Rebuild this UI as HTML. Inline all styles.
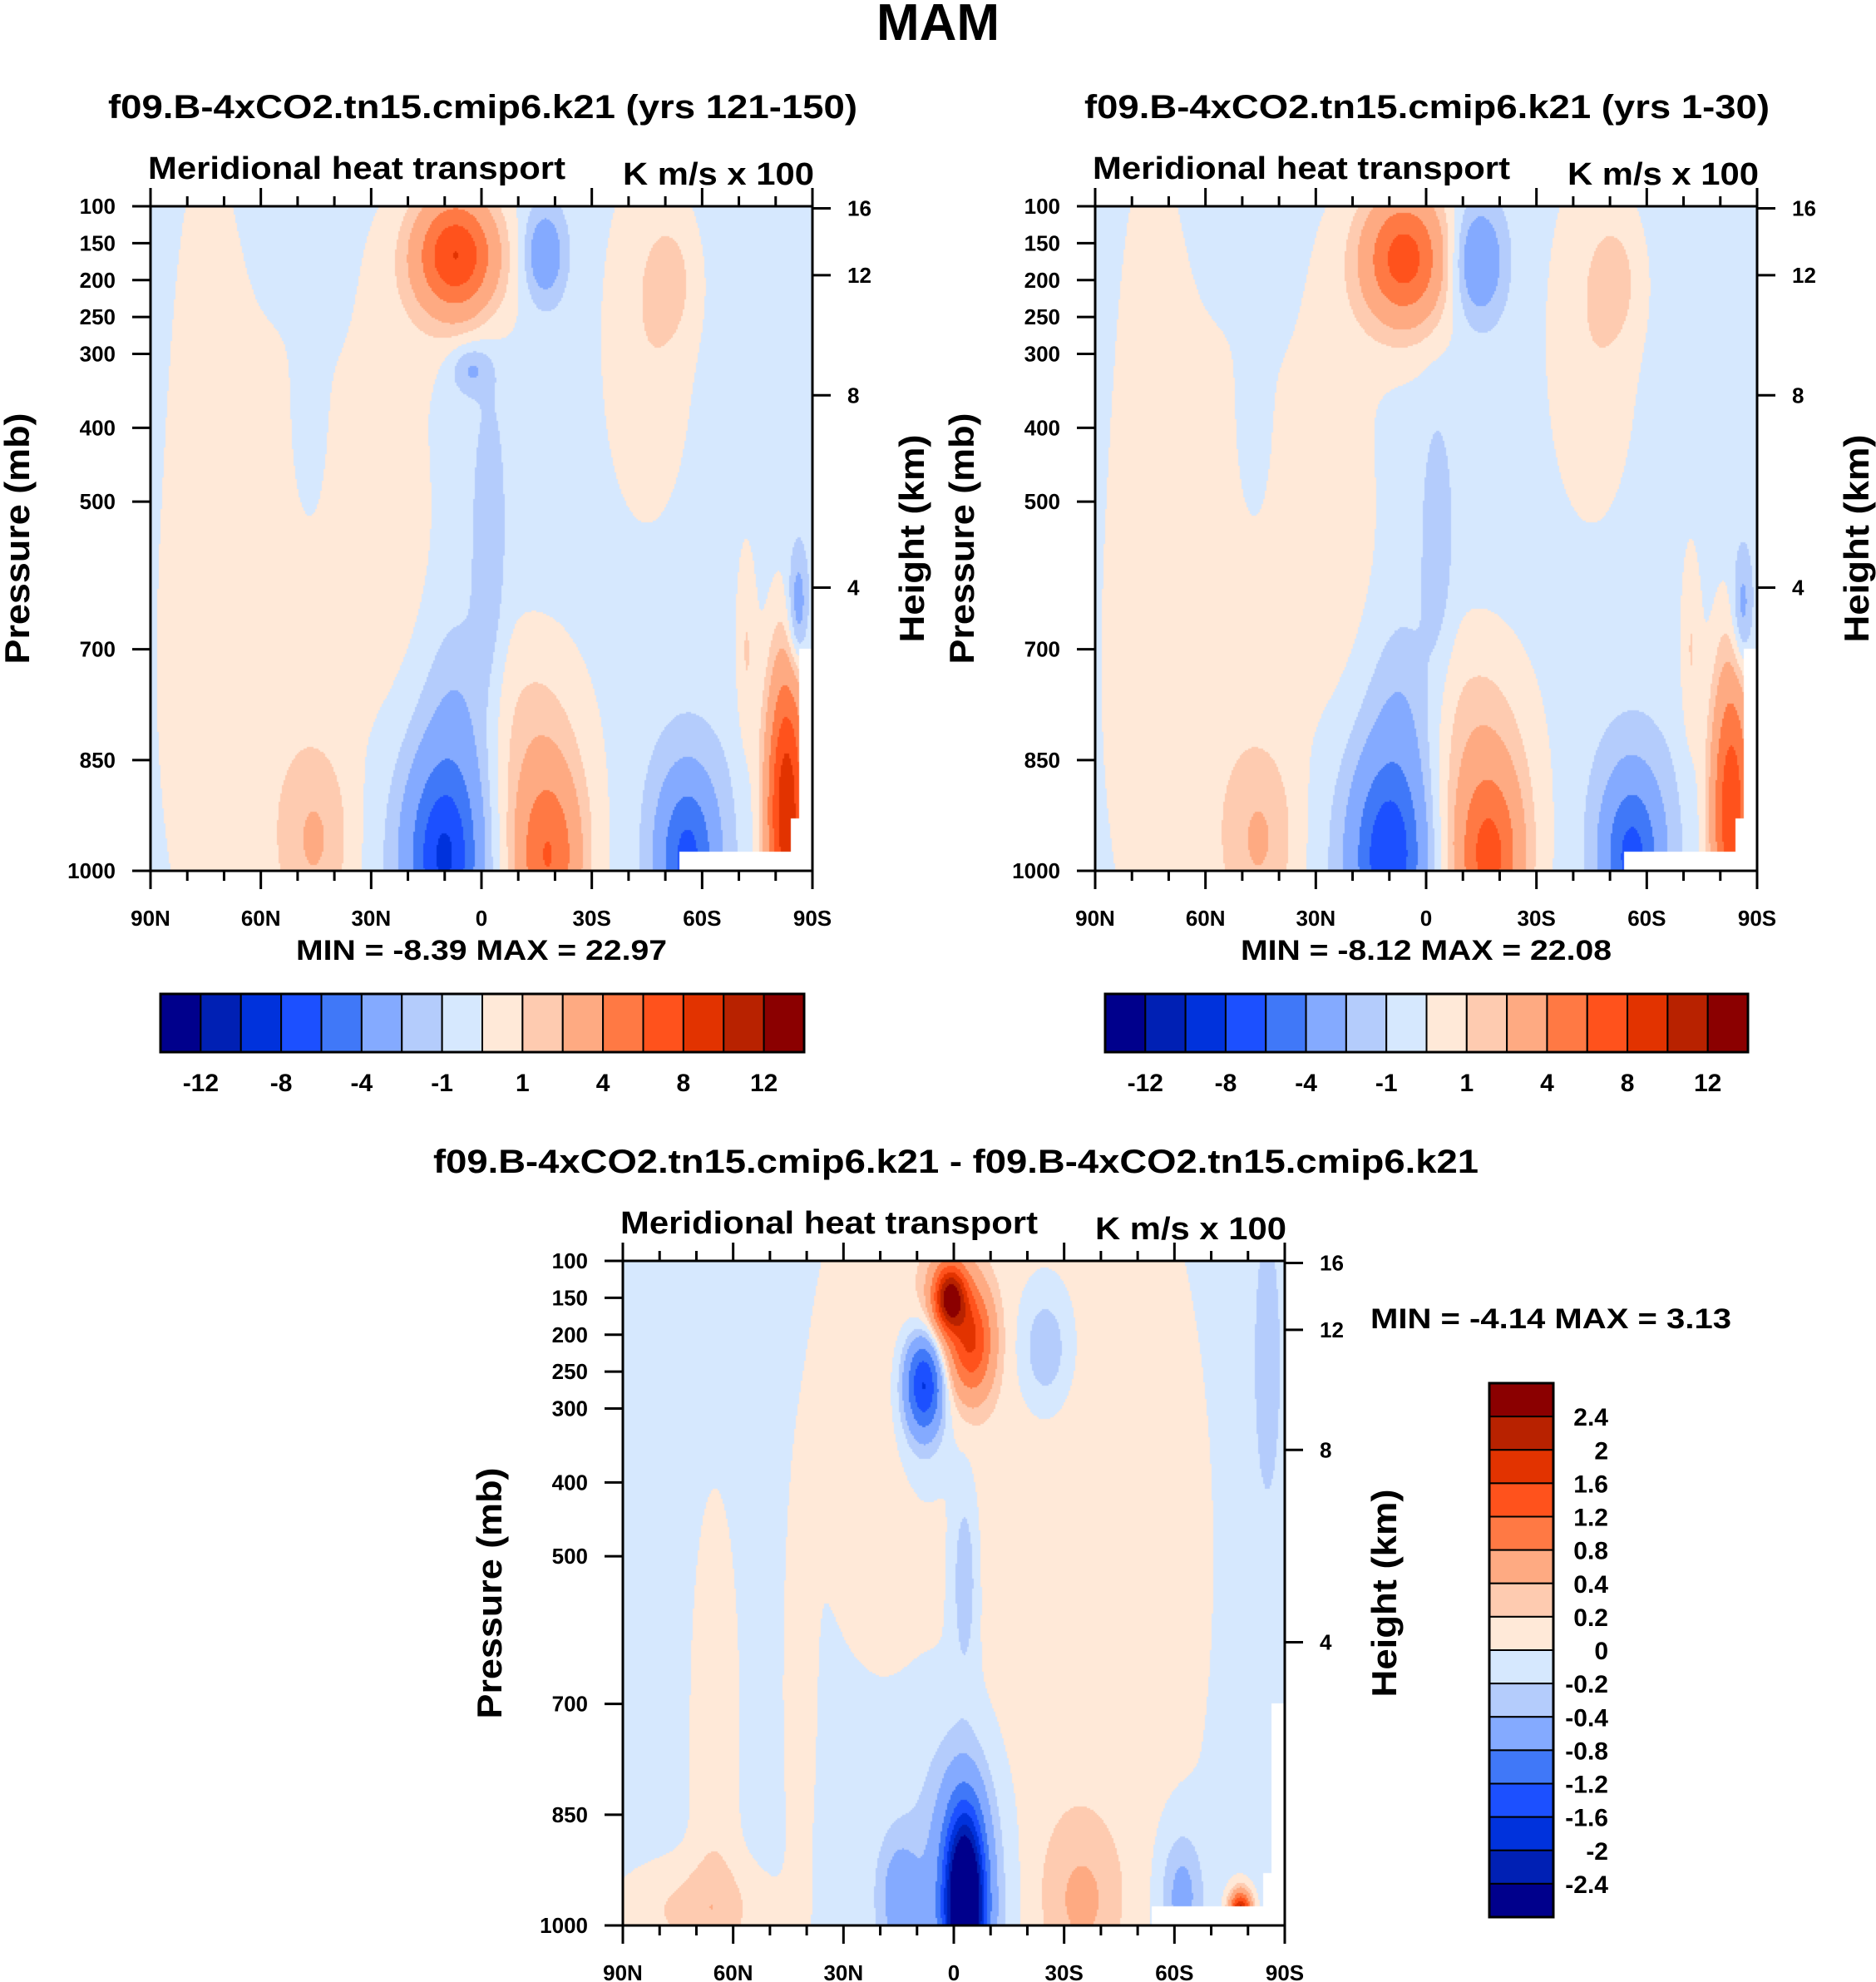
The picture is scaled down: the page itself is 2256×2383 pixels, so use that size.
<!DOCTYPE html>
<html><head><meta charset="utf-8">
<style>
html,body{margin:0;padding:0;background:#fff;}
#wrap{position:relative;width:2256px;height:2383px;overflow:hidden;font-family:"Liberation Sans",Arial,sans-serif;}
canvas{position:absolute;}
svg{position:absolute;left:0;top:0;}
text{font-family:"Liberation Sans",Arial,sans-serif;font-weight:bold;fill:#000;}
</style></head>
<body>
<div id="wrap">
<canvas id="c1"></canvas>
<canvas id="c2"></canvas>
<canvas id="c3"></canvas>
<svg id="ov" width="2256" height="2383"></svg>
</div>
<script>
// ---------- data ----------
const latTicks = [90,60,30,0,-30,-60,-90];
const latTickLabels = ["90N","60N","30N","0","30S","60S","90S"];
const presTicks = [100,150,200,250,300,400,500,700,850,1000];
const heightTicks = [16,12,8,4];
const levelsMain = [-12,-10,-8,-6,-4,-2,-1,0,1,2,4,6,8,10,12];
const levelsDiff = [-2.4,-2,-1.6,-1.2,-0.8,-0.4,-0.2,0,0.2,0.4,0.8,1.2,1.6,2,2.4];
const cbLabelsMain = ["-12","-8","-4","-1","1","4","8","12"];
const cbLabelsDiff = ["2.4","2","1.6","1.2","0.8","0.4","0.2","0","-0.2","-0.4","-0.8","-1.2","-1.6","-2","-2.4"];
const colors = ["#00008c","#0020b4","#0032dc","#1c50ff","#4078f8","#84aaff","#b4ccfc","#d6e8fe","#ffe9d8","#fecbb0","#feaa82","#ff7944","#ff521c","#e23300","#b82200","#8b0000"];

// blob features: lat, pressure, amplitude, lat width, pressure width
const p1Lat = [62,75,25,47,7,7,-17,-45,-52,3,-2,6,-12,10,12,-18,-18,-56,-56,45,-83,-86,-72];
const p1Pres= [750,300,550,420,165,175,165,280,200,320,560,800,800,985,950,985,950,985,950,960,920,650,700];
const p1Amp = [1.0,0.6,1.0,-0.5,6,2.5,-3,1.3,1.2,-2,-1.5,-1.2,1.2,-6,-2,5,1.5,-5,-1.3,2.0,10,-3,1.5];
const p1SLat= [22,6,9,3,7,11,4,9,5,4,3,6,10,6,11,6,11,5,9,7,4,2,2];
const p1SP  = [420,250,220,80,50,80,45,180,60,25,140,100,100,80,140,80,140,70,110,90,140,60,100];

const p2Lat = [62,75,25,47,6,6,-14,-45,-52,-3,6,-12,10,12,-17,-17,-56,-56,45,-83,-86,-72];
const p2Pres= [750,300,550,420,170,175,175,280,200,560,800,800,985,950,985,950,985,950,960,920,650,700];
const p2Amp = [1.0,0.6,1.0,-0.5,5,2.5,-3.5,1.3,1.2,-1.3,-1.2,1.2,-5.5,-2,5.5,1.8,-5,-1.4,2.0,8,-2.5,1.5];
const p2SLat= [22,6,9,3,7,11,5,9,5,3,6,10,6,11,6,11,5,9,7,4,2,2];
const p2SP  = [420,250,220,80,55,85,55,180,60,120,100,100,80,140,80,140,70,110,90,140,60,100];

const p3Lat = [-30,25,1,-5,2,8,8,-25,-3,-3,-2,15,70,-35,-62,-78,65,42,-85];
const p3Pres= [500,300,150,210,180,265,270,220,530,970,950,960,980,970,960,985,750,700,250];
const p3Amp = [0.25,0.25,2.2,1.3,0.6,-1.5,-0.4,-0.45,-0.4,-3.5,-0.7,-0.5,0.35,0.4,-0.5,2.5,0.25,0.25,-0.2];
const p3SLat= [30,10,3,4,7,3.5,6,5,2.5,3.5,8,4,15,8,4,2,5,3,4];
const p3SP  = [500,200,30,50,80,45,80,60,90,80,140,60,50,80,60,20,250,200,200];

// ---------- geometry ----------
const panels = [
 {id:"c1",L:181,R:977,T:248,B:1047,base:-0.5,lat:p1Lat,pres:p1Pres,amp:p1Amp,sl:p1SLat,sp:p1SP,lev:levelsMain},
 {id:"c2",L:1317,R:2113,T:248,B:1047,base:-0.5,lat:p2Lat,pres:p2Pres,amp:p2Amp,sl:p2SLat,sp:p2SP,lev:levelsMain},
 {id:"c3",L:749,R:1545,T:1516,B:2315,base:-0.1,lat:p3Lat,pres:p3Pres,amp:p3Amp,sl:p3SLat,sp:p3SP,lev:levelsDiff}
];
function xOf(P,lat){return P.L+(90-lat)/180*(P.R-P.L);}
function yOf(P,p){return P.T+(p-100)/900*(P.B-P.T);}
function hexRgb(h){return [parseInt(h.substr(1,2),16),parseInt(h.substr(3,2),16),parseInt(h.substr(5,2),16)];}
const rgb = colors.map(hexRgb);
function masked(lat,p){
  if(lat<-53.8 && p>975) return true;
  if(lat<-86.5 && p>700) return true;
  if(lat<-84 && p>930) return true;
  return false;
}
panels.forEach(P=>{
  const c=document.getElementById(P.id);
  const w=P.R-P.L,h=P.B-P.T;
  c.width=w;c.height=h;c.style.left=P.L+"px";c.style.top=P.T+"px";
  const ctx=c.getContext("2d");
  const img=ctx.createImageData(w,h);
  const st=2;
  for(let j=0;j<h;j+=st){
    const p=100+(j+1)/h*900;
    for(let i=0;i<w;i+=st){
      const lat=90-(i+1)/w*180;
      let v=P.base;
      for(let k=0;k<P.lat.length;k++){
        const dx=(lat-P.lat[k])/P.sl[k],dy=(p-P.pres[k])/P.sp[k];
        const e=dx*dx+dy*dy; if(e<30) v+=P.amp[k]*Math.exp(-0.5*e);
      }
      let col;
      if(masked(lat,p)) col=[255,255,255];
      else{let idx=0;while(idx<P.lev.length&&v>=P.lev[idx])idx++;col=rgb[idx];}
      for(let a=0;a<st&&j+a<h;a++)for(let b=0;b<st&&i+b<w;b++){
        const o=((j+a)*w+(i+b))*4;img.data[o]=col[0];img.data[o+1]=col[1];img.data[o+2]=col[2];img.data[o+3]=255;}
    }
  }
  ctx.putImageData(img,0,0);
});

// ---------- overlay ----------
const NS="http://www.w3.org/2000/svg";
const ov=document.getElementById("ov");
function el(tag,attrs,txt){const e=document.createElementNS(NS,tag);for(const k in attrs)e.setAttribute(k,attrs[k]);if(txt!==undefined)e.textContent=txt;ov.appendChild(e);return e;}
function txt(x,y,s,size,anchor,name,extra){
  const t=el("text",Object.assign({x:x,y:y,"font-size":size,"text-anchor":anchor||"start"},extra||{}),s);
  
  
  return t;
}
function isaP(zkm){const z=zkm*1000;if(z<=11000)return 1013.25*Math.pow(1-2.25577e-5*z,5.25588);return 226.32*Math.exp(-(z-11000)/6341.6);}

txt(1128,48,"MAM",62,"middle","figure-title");

const subs=[
 {P:panels[0],title:"f09.B-4xCO2.tn15.cmip6.k21 (yrs 121-150)",tx:130,tw:901,mm:"MIN =  -8.39  MAX =  22.97",mx:356,mw:446},
 {P:panels[1],title:"f09.B-4xCO2.tn15.cmip6.k21 (yrs 1-30)",tx:1304,tw:824,mm:"MIN =  -8.12  MAX =  22.08",mx:1492,mw:446},
 {P:panels[2],title:"f09.B-4xCO2.tn15.cmip6.k21 - f09.B-4xCO2.tn15.cmip6.k21",tx:521,tw:1257,mm:"MIN =  -4.14  MAX =   3.13",mx:1648,mw:434}
];
subs.forEach((S,n)=>{
  const P=S.P;
  const ty = n<2?142:1410;
  txt(S.tx,ty,S.title,40,"start","panel-title-"+(n+1),{textLength:S.tw,lengthAdjust:"spacingAndGlyphs"});
  txt(P.L-3,P.T-33,"Meridional heat transport",38,"start","left-string-"+(n+1),{textLength:502,lengthAdjust:"spacingAndGlyphs"});
  txt(P.R+2,P.T-26,"K m/s x 100",38,"end","units-"+(n+1),{textLength:230,lengthAdjust:"spacingAndGlyphs"});
  const fr=el("rect",{x:P.L,y:P.T,width:P.R-P.L,height:P.B-P.T,fill:"none",stroke:"#000","stroke-width":3});
  
  
  for(let lat=90;lat>=-90;lat-=10){
    const x=xOf(P,lat);const major=(lat%30===0);const len=major?22:12;
    const tb=el("line",{x1:x,y1:P.B,x2:x,y2:P.B+len,stroke:"#000","stroke-width":3});
    
    
    const tt=el("line",{x1:x,y1:P.T,x2:x,y2:P.T-len,stroke:"#000","stroke-width":3});
    
    
  }
  latTicks.forEach((lat,i)=>{txt(xOf(P,lat),P.B+66,latTickLabels[i],26,"middle","x-tick-label");});
  presTicks.forEach(p=>{
    const y=yOf(P,p);
    const t=el("line",{x1:P.L,y1:y,x2:P.L-22,y2:y,stroke:"#000","stroke-width":3});
    
    
    txt(P.L-42,y+9,String(p),26,"end","y-tick-label");
  });
  heightTicks.forEach(hk=>{
    const y=yOf(P,isaP(hk));
    const t=el("line",{x1:P.R,y1:y,x2:P.R+22,y2:y,stroke:"#000","stroke-width":3});
    
    
    txt(P.R+42,y+9,String(hk),26,"start","height-tick-label");
  });
  const cy=(P.T+P.B)/2;
  txt(0,0,"Pressure (mb)",42,"middle","y-axis-title",{transform:"translate("+(P.L-146)+","+cy+") rotate(-90)",textLength:302,lengthAdjust:"spacingAndGlyphs"});
  txt(0,0,"Height (km)",42,"middle","right-axis-title",{transform:"translate("+(P.R+134)+","+cy+") rotate(-90)",textLength:250,lengthAdjust:"spacingAndGlyphs"});
  txt(S.mx,n<2?1154:1597,S.mm,34,"start","min-max-"+(n+1),{textLength:S.mw,lengthAdjust:"spacingAndGlyphs","xml:space":"preserve"});
});

// horizontal colorbars
[[193,967],[1329,2102]].forEach((cb,n)=>{
  const x0=cb[0],x1=cb[1],y0=1195,y1=1265,bw=(x1-x0)/16;
  colors.forEach((c,i)=>{
    const r=el("rect",{x:x0+i*bw,y:y0,width:bw,height:y1-y0,fill:c,stroke:"#000","stroke-width":2});
    
    
  });
  const fr=el("rect",{x:x0,y:y0,width:x1-x0,height:y1-y0,fill:"none",stroke:"#000","stroke-width":3});
  
  
  cbLabelsMain.forEach((s,i)=>{txt(x0+(1+2*i)*bw,1312,s,30,"middle","colorbar-label");});
});
// vertical colorbar
(function(){
  const x0=1791,x1=1868,y0=1663,y1=2305,bh=(y1-y0)/16;
  for(let i=0;i<16;i++){
    const r=el("rect",{x:x0,y:y0+i*bh,width:x1-x0,height:bh,fill:colors[15-i],stroke:"#000","stroke-width":2});
    
    
  }
  const fr=el("rect",{x:x0,y:y0,width:x1-x0,height:y1-y0,fill:"none",stroke:"#000","stroke-width":3});
  
  
  cbLabelsDiff.forEach((s,i)=>{txt(1934,y0+(i+1)*bh+11,s,30,"end","colorbar-label");});
})();
</script>
</body></html>
